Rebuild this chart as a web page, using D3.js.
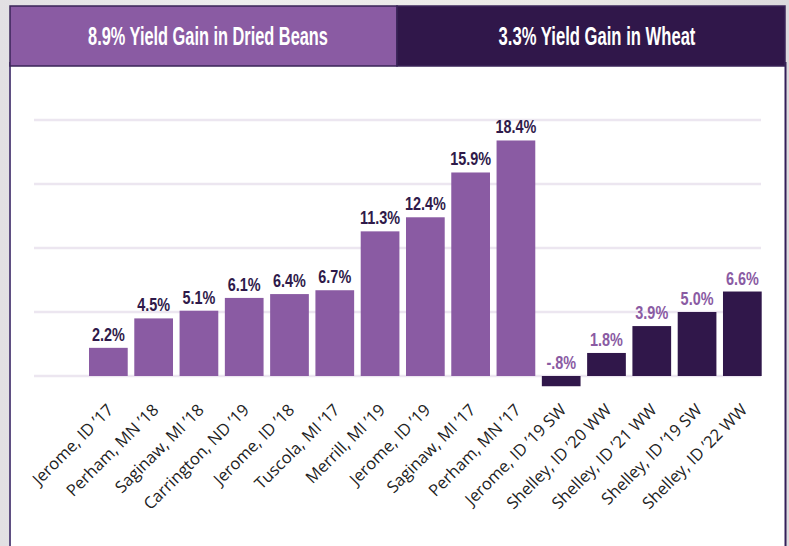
<!DOCTYPE html>
<html>
<head>
<meta charset="utf-8">
<script src="https://cdn.jsdelivr.net/npm/d3@7"></script>
<style>
  html, body { margin: 0; padding: 0; background: #e8e6e9; }
  svg { display: block; }
</style>
</head>
<body>
<div id="chart"></div>
<script>
// data
const categories = [
    "Jerome, ID \u201917", "Perham, MN \u201918", "Saginaw, MI \u201918", "Carrington, ND \u201919",
    "Jerome, ID \u201918", "Tuscola, MI \u201917", "Merrill, MI \u201919", "Jerome, ID \u201919",
    "Saginaw, MI \u201917", "Perham, MN \u201917", "Jerome, ID \u201919 SW", "Shelley, ID \u201920 WW",
    "Shelley, ID \u201921 WW", "Shelley, ID \u201919 SW", "Shelley, ID \u201922 WW"
];
const yieldGain = [2.2, 4.5, 5.1, 6.1, 6.4, 6.7, 11.3, 12.4, 15.9, 18.4, -0.8, 1.8, 3.9, 5.0, 6.6];
const valueLabels = ["2.2%", "4.5%", "5.1%", "6.1%", "6.4%", "6.7%", "11.3%", "12.4%", "15.9%", "18.4%",
    "-.8%", "1.8%", "3.9%", "5.0%", "6.6%"];
const crop = ["beans", "beans", "beans", "beans", "beans", "beans", "beans", "beans", "beans", "beans",
    "wheat", "wheat", "wheat", "wheat", "wheat"];
const gridTicks = [0, 5, 10, 15, 20];
const headers = ["8.9% Yield Gain in Dried Beans", "3.3% Yield Gain in Wheat"];

const width = 789;
const height = 546;

const lightPurple = "#8a5ba3";
const darkPurple = "#30174a";
const boldFont = "'Liberation Sans', Arial, sans-serif";

const svg = d3.select("#chart").append("svg")
    .attr("width", width)
    .attr("height", height);

// squeeze a text horizontally so it looks like a condensed face
function squeeze(sel, cx, cy, factor, target) {
    sel.each(function() {
        const w = this.getComputedTextLength();
        const s = target ? target / w : factor;
        d3.select(this).attr("transform", `translate(${cx},${cy}) scale(${s},1)`);
    });
}

// blurry photo-ish background
const defs = svg.append("defs");
const bg = defs.append("linearGradient").attr("id", "bg").attr("x1", 0).attr("x2", 1).attr("y1", 0).attr("y2", 0);
bg.append("stop").attr("offset", "0%").attr("stop-color", "#e2e0e3");
bg.append("stop").attr("offset", "30%").attr("stop-color", "#eeedee");
bg.append("stop").attr("offset", "70%").attr("stop-color", "#ebe9e6");
bg.append("stop").attr("offset", "100%").attr("stop-color", "#dcdadd");
svg.append("rect").attr("width", width).attr("height", height).attr("fill", "url(#bg)");

// white panel
svg.append("rect")
    .attr("x", 10).attr("y", 62)
    .attr("width", 776).attr("height", height - 62)
    .attr("fill", "#fff");
svg.append("line")
    .attr("x1", 10).attr("x2", 10).attr("y1", 62).attr("y2", height)
    .attr("stroke", "#5f4f82").attr("stroke-width", 2);
svg.append("line")
    .attr("x1", 785.5).attr("x2", 785.5).attr("y1", 62).attr("y2", height)
    .attr("stroke", "#34205a").attr("stroke-width", 2);

// header boxes
const headerBoxes = [
    { x: 10, w: 387, fill: lightPurple, tx: 208, tl: 240 },
    { x: 397, w: 388, fill: darkPurple, tx: 597, tl: 197 }
];
headerBoxes.forEach((h, i) => {
    svg.append("rect")
        .attr("x", h.x).attr("y", 6)
        .attr("width", h.w).attr("height", 60)
        .attr("fill", h.fill)
        .attr("stroke", "#3a2458").attr("stroke-width", 1.5);
    svg.append("text")
        .attr("text-anchor", "middle")
        .attr("font-family", boldFont)
        .attr("font-weight", "bold")
        .attr("font-size", 25)
        .attr("fill", "#fff")
        .text(headers[i])
        .call(squeeze, h.tx, 45, null, h.tl);
});

// scales
const x = d3.scaleBand()
    .domain(categories)
    .range([89, 761.7])
    .paddingInner(0.145)
    .paddingOuter(0);

const y = d3.scaleLinear()
    .domain([0, 20])
    .range([376, 120]);

// gridlines
svg.append("g")
    .selectAll("line")
    .data(gridTicks)
    .join("line")
    .attr("x1", 34).attr("x2", 761)
    .attr("y1", d => y(d)).attr("y2", d => y(d))
    .attr("stroke", "#ece6f0")
    .attr("stroke-width", 2.5);

// bars
svg.append("g")
    .selectAll("rect")
    .data(yieldGain)
    .join("rect")
    .attr("x", (d, i) => x(categories[i]))
    .attr("width", x.bandwidth())
    .attr("y", d => y(Math.max(0, d)))
    .attr("height", d => Math.abs(y(d) - y(0)))
    .attr("fill", (d, i) => crop[i] === "beans" ? lightPurple : darkPurple);

// value labels
const labelG = svg.append("g");
yieldGain.forEach((d, i) => {
    labelG.append("text")
        .attr("text-anchor", "middle")
        .attr("font-family", boldFont)
        .attr("font-weight", "bold")
        .attr("font-size", 19)
        .attr("fill", crop[i] === "beans" ? "#2f1a4a" : lightPurple)
        .text(valueLabels[i])
        .call(squeeze, x(categories[i]) + x.bandwidth() / 2, y(Math.max(0, d)) - 7, 0.76);
});

// category labels, rotated
svg.append("g")
    .selectAll("text")
    .data(categories)
    .join("text")
    .attr("transform", d => `translate(${x(d) + x.bandwidth() / 2 + 6},411) rotate(-45)`)
    .attr("text-anchor", "end")
    .attr("font-family", "'Open Sans', sans-serif")
    .attr("font-size", 16.5)
    .attr("fill", "#222")
    .text(d => d);
</script>
</body>
</html>
